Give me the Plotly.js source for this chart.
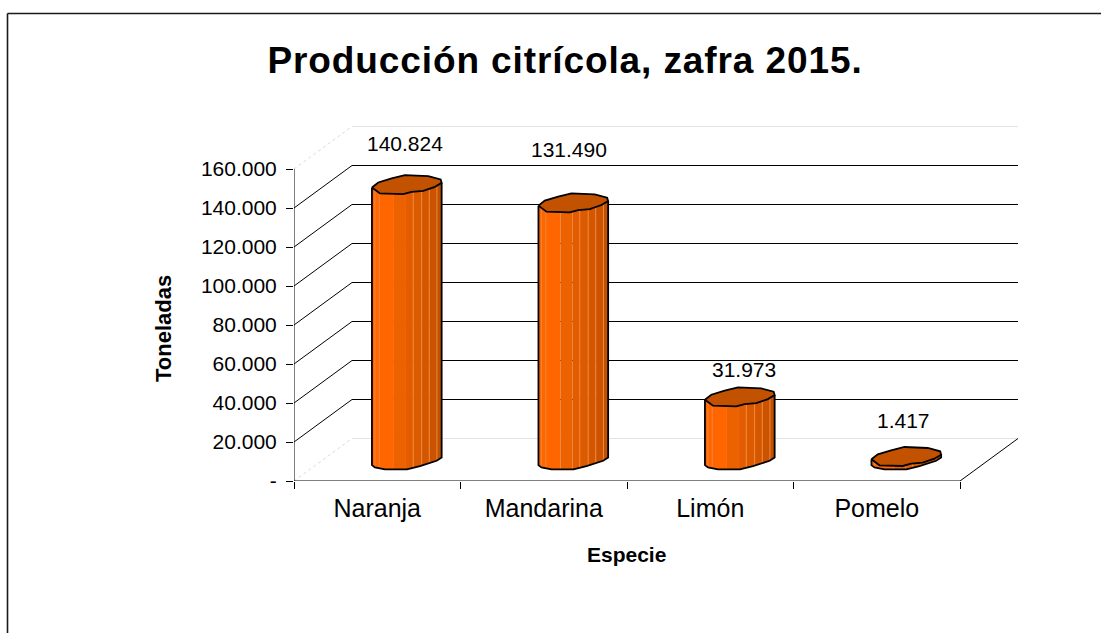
<!DOCTYPE html>
<html>
<head>
<meta charset="utf-8">
<script src="https://cdn.plot.ly/plotly-3.0.1.min.js"></script>
<style>html,body{margin:0;padding:0;background:#fff}#chart{width:1101px;height:633px}
.gtitle{letter-spacing:0.9px}</style>
</head>
<body>
<div id="chart"></div>
<script>
// ---- data ----
const categories = ['Naranja', 'Mandarina', 'Limón', 'Pomelo'];
const values = [140824, 131490, 31973, 1417];
const valueLabels = ['140.824', '131.490', '31.973', '1.417'];
const tickValues = [0, 20000, 40000, 60000, 80000, 100000, 120000, 140000, 160000];
const tickLabels = ['-', '20.000', '40.000', '60.000', '80.000', '100.000', '120.000', '140.000', '160.000'];

// ---- layout geometry ----
const W = 1101, H = 633;
const plot = {left: 294, right: 1018, top: 120, bottom: 481};
const xPerCat = 166.5;          // px per category on the front plane
const yPxPerUnit = 1.95 / 1000; // px per tonne
const depthPx = {x: 58, y: 42.5};
const xRange = [-0.5, 3.5 + depthPx.x / xPerCat];
const yRange = [0, (plot.bottom - plot.top) / yPxPerUnit];
const ux = px => px / xPerCat;
const uy = px => -px / yPxPerUnit;      // px downwards -> value units
const depthX = ux(depthPx.x), depthY = -uy(depthPx.y);

// ---- cylinder styling (px offsets from the centre of the end ellipse) ----
const capOutline = [[-35,2.3],[-27,8.3],[-3.7,9],[4.7,6.7],[16.3,5.7],[28,1.7],[34.7,-2.3],[33.7,-5.7],[21.3,-9],[-2,-10],[-15.3,-6.7],[-28.7,-2.7]];
const topFront = capOutline.slice(0, 7);
const baseFront = [[-35,5.4],[-32,7.7],[-22,9.7],[0,9.7],[13,6.4],[29.7,1],[34.7,-2.3]];
const bandEdges = [-35,-13,-1,6.3,14.7,22.3,30,34.7];
const bandColors = ['#FF6600','#EC6100','#E35D00','#DC5A00','#D45700','#CB5300','#C15000'];
const glints = [-32,-27.7,6.3,14.7,22.3,30];
const capColor = '#C25200';
const cylinderNudgePx = 0.7;

function edgeY(outline, x) {
  for (let i = 1; i < outline.length; i++) {
    if (x <= outline[i][0]) {
      const [x0, y0] = outline[i - 1], [x1, y1] = outline[i];
      return y0 + (y1 - y0) * (x - x0) / (x1 - x0);
    }
  }
  return outline[outline.length - 1][1];
}

const traces = [];
// invisible real bars carry the category axis and the values
traces.push({type: 'bar', x: categories, y: values, marker: {color: 'rgba(0,0,0,0)'}, hoverinfo: 'x+y', showlegend: false});

function line(xs, ys, color, width, dash) {
  traces.push({type: 'scatter', mode: 'lines', xaxis: 'x2', yaxis: 'y', x: xs, y: ys,
    line: {color, width, dash: dash || 'solid'}, cliponaxis: false, hoverinfo: 'skip', showlegend: false});
}

// walls
const x0 = -0.5, x1 = 3.5;
tickValues.forEach(v => {
  const edge = v === 0 || v === 160000;
  const c = edge ? '#E4E4E4' : '#000000';
  line([x0 + depthX, x1 + depthX], [v + depthY, v + depthY], c, 1);
  line([x0, x0 + depthX], [v, v + depthY], edge ? '#DADADA' : '#000000', 1, edge ? 'dot' : 'solid');
});
line([x0, x0], [0, 160000], '#000000', 1);
line([x0, x1], [0, 0], '#000000', 1);
line([x1, x1 + depthX], [0, depthY], '#000000', 1);

// cylinders
categories.forEach((cat, i) => {
  const cx = i + depthX / 2 + ux(cylinderNudgePx);
  const top = values[i] + depthY / 2, base = depthY / 2;
  const tx = o => cx + ux(o);
  for (let b = 0; b < bandColors.length; b++) {
    const a = bandEdges[b], z = bandEdges[b + 1];
    const inner = o => o[0] > a && o[0] < z;
    const tPts = [a, ...topFront.filter(inner).map(o => o[0]), z];
    const bPts = [a, ...baseFront.filter(inner).map(o => o[0]), z];
    const xs = [...tPts.map(tx), ...bPts.slice().reverse().map(tx)];
    const ys = [...tPts.map(o => top + uy(edgeY(topFront, o))), ...bPts.slice().reverse().map(o => base + uy(edgeY(baseFront, o)))];
    traces.push({type: 'scatter', mode: 'lines', xaxis: 'x2', yaxis: 'y', x: [...xs, xs[0]], y: [...ys, ys[0]],
      fill: 'toself', fillcolor: bandColors[b], line: {width: 0, color: bandColors[b]}, hoverinfo: 'skip', showlegend: false});
  }
  glints.forEach(g => line([tx(g), tx(g)], [top + uy(edgeY(topFront, g)), base + uy(edgeY(baseFront, g))], '#EE8438', 1));
  // body outline
  const bx = [...baseFront.map(o => tx(o[0]))], by = baseFront.map(o => base + uy(o[1]));
  line([tx(topFront[0][0]), ...bx, tx(topFront[6][0])], [top + uy(topFront[0][1]), ...by, top + uy(topFront[6][1])], '#000000', 1.8);
  // top cap
  const cpx = capOutline.map(o => tx(o[0])), cpy = capOutline.map(o => top + uy(o[1]));
  traces.push({type: 'scatter', mode: 'lines', xaxis: 'x2', yaxis: 'y', x: [...cpx, cpx[0]], y: [...cpy, cpy[0]],
    fill: 'toself', fillcolor: capColor, line: {color: '#000000', width: 1.8}, hoverinfo: 'skip', showlegend: false});
});

const px = v => (v - plot.left) / (plot.right - plot.left);
const py = v => (plot.bottom - v) / (plot.bottom - plot.top);

// hand-placed value labels as in the reference
const labelShift = [[-1, 42], [-4, 54], [5, 28], [-2, 36]];
const annotations = categories.map((cat, i) => ({
  x: cat, y: values[i] , xref: 'x', yref: 'y', text: valueLabels[i], showarrow: false,
  xshift: depthPx.x / 2 + labelShift[i][0], yshift: depthPx.y / 2 + labelShift[i][1],
  font: {family: 'Liberation Sans', size: 21, color: '#000'}
}));
// axis titles sit off-centre in the reference (centred on the front plane, not the plot box)
annotations.push({xref: 'paper', yref: 'paper', x: px(626), y: py(554), xanchor: 'center', yanchor: 'middle', showarrow: false,
  text: '<b>Especie</b>', font: {family: 'Liberation Sans', size: 21, color: '#000'}});
annotations.push({xref: 'paper', yref: 'paper', x: px(163), y: py(329), xanchor: 'center', yanchor: 'middle', showarrow: false, textangle: -90,
  text: '<b>Toneladas</b>', font: {family: 'Liberation Sans', size: 22, color: '#000'}});

const layout = {
  width: W, height: H,
  margin: {l: plot.left, r: W - plot.right, t: plot.top, b: H - plot.bottom, pad: 0},
  paper_bgcolor: '#fff', plot_bgcolor: 'rgba(0,0,0,0)',
  showlegend: false, hovermode: 'closest',
  font: {family: 'Liberation Sans', color: '#000'},
  title: {text: '<b>Producción citrícola, zafra 2015.</b>', x: 565 / W, xanchor: 'center', y: 1 - 60 / H, yanchor: 'middle',
    font: {family: 'Liberation Sans', size: 37, color: '#000'}},
  xaxis: {type: 'category', categoryorder: 'array', categoryarray: categories, range: xRange, tickson: 'boundaries',
    ticks: 'outside', ticklen: 7, tickcolor: '#000', tickwidth: 1, showgrid: false, showline: false, zeroline: false,
    ticklabelstandoff: 10, tickfont: {size: 25, family: 'Liberation Sans', color: '#000'}},
  xaxis2: {overlaying: 'x', anchor: 'y', range: xRange, visible: false},
  yaxis: {range: yRange, tickmode: 'array', tickvals: tickValues, ticktext: tickLabels, ticks: 'outside', ticklen: 7,
    tickcolor: '#000', tickwidth: 1, showgrid: false, showline: false, zeroline: false, ticklabelstandoff: 5,
    tickfont: {size: 21, family: 'Liberation Sans', color: '#000'}},
  annotations,
  shapes: [
    {type: 'line', xref: 'paper', yref: 'paper', x0: px(7.5), x1: px(W), y0: py(13.5), y1: py(13.5), line: {color: '#1a1a1a', width: 1.6}},
    {type: 'line', xref: 'paper', yref: 'paper', x0: px(7.5), x1: px(7.5), y0: py(13.5), y1: py(H), line: {color: '#1a1a1a', width: 1.6}}
  ]
};
Plotly.newPlot('chart', traces, layout, {displayModeBar: false, responsive: false});
</script>
</body>
</html>
